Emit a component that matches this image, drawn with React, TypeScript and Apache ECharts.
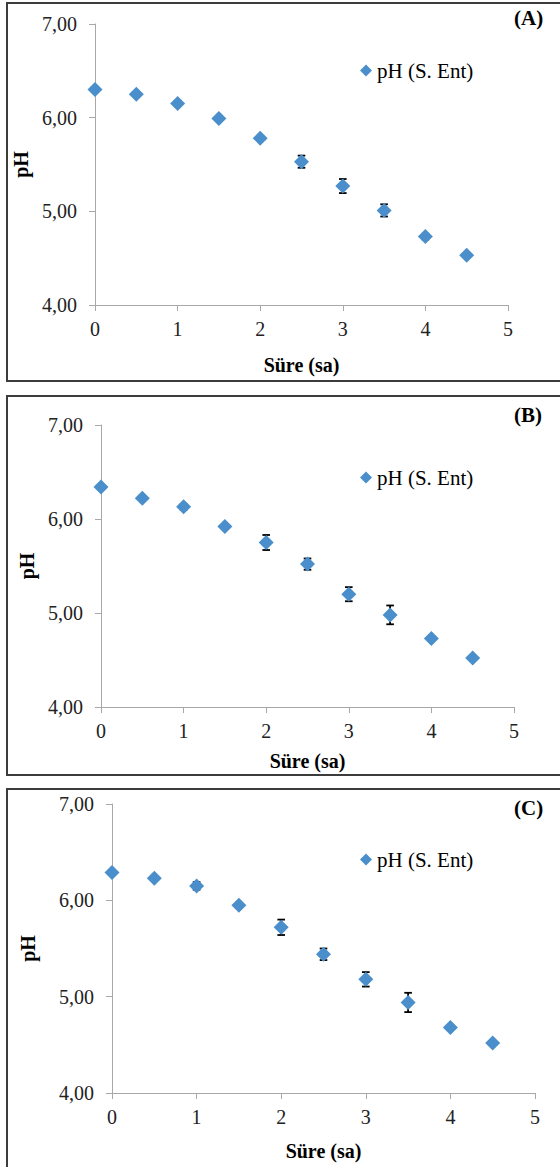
import React, { useEffect, useRef } from "react";
import * as echarts from "echarts";

const timeHours = [0, 0.5, 1, 1.5, 2, 2.5, 3, 3.5, 4, 4.5];
const phA = [6.3, 6.25, 6.15, 5.99, 5.78, 5.53, 5.27, 5.01, 4.73, 4.53];
const errA = [0.02, 0.01, 0.01, 0.01, 0.01, 0.065, 0.075, 0.065, 0.03, 0.01];
const phB = [6.34, 6.22, 6.13, 5.92, 5.75, 5.52, 5.2, 4.98, 4.73, 4.52];
const errB = [0.01, 0.01, 0.03, 0.01, 0.08, 0.06, 0.075, 0.1, 0.01, 0.01];
const phC = [6.29, 6.23, 6.15, 5.95, 5.72, 5.44, 5.18, 4.94, 4.68, 4.52];
const errC = [0.01, 0.01, 0.04, 0.01, 0.08, 0.06, 0.075, 0.1, 0.01, 0.01];
const panelLabels = ["(A)", "(B)", "(C)"];
const seriesName = "pH (S. Ent)";
const xAxisTitle = "Süre (sa)";
const yAxisTitle = "pH";

const FONT = "Liberation Serif";
const MARKER = "#4a8fcb";
const AXIS = "#a8a8a8";

type Panel = {
  values: number[];
  errors: number[];
  grid: { left: number; top: number; width: number; height: number };
  yNameGap: number;
  xNameGap: number;
  legendTop: number;
  labelY: number;
  box: { y: number; h: number };
};

const panels: Panel[] = [
  {
    values: phA,
    errors: errA,
    grid: { left: 95, top: 24, width: 413, height: 281 },
    yNameGap: 58,
    xNameGap: 50,
    legendTop: 60,
    labelY: 18,
    box: { y: 3, h: 378 },
  },
  {
    values: phB,
    errors: errB,
    grid: { left: 101, top: 425, width: 413, height: 282 },
    yNameGap: 59,
    xNameGap: 44,
    legendTop: 467,
    labelY: 415,
    box: { y: 396, h: 379 },
  },
  {
    values: phC,
    errors: errC,
    grid: { left: 112, top: 804, width: 423, height: 289 },
    yNameGap: 74,
    xNameGap: 48,
    legendTop: 849,
    labelY: 808,
    box: { y: 789, h: 420 },
  },
];

export default function App() {
  const ref = useRef<HTMLDivElement>(null);

  useEffect(() => {
    if (!ref.current) return;
    const chart = echarts.init(ref.current, null, { renderer: "svg" });

    const grids: any[] = [];
    const xAxes: any[] = [];
    const yAxes: any[] = [];
    const series: any[] = [];
    const legends: any[] = [];
    const graphics: any[] = [];

    panels.forEach((p, i) => {
      grids.push({ ...p.grid, containLabel: false });
      xAxes.push({
        type: "value",
        gridIndex: i,
        min: 0,
        max: 5,
        interval: 1,
        name: xAxisTitle,
        nameLocation: "middle",
        nameGap: p.xNameGap,
        nameTextStyle: { fontFamily: FONT, fontSize: 20, fontWeight: "bold", color: "#000" },
        axisLine: { show: true, lineStyle: { color: AXIS, width: 1 } },
        axisTick: { show: true, length: 6, lineStyle: { color: AXIS } },
        axisLabel: { fontFamily: FONT, fontSize: 20, color: "#222", margin: 14 },
        splitLine: { show: false },
      });
      yAxes.push({
        type: "value",
        gridIndex: i,
        min: 4,
        max: 7,
        interval: 1,
        name: yAxisTitle,
        nameLocation: "middle",
        nameGap: p.yNameGap,
        nameRotate: 90,
        nameTextStyle: { fontFamily: FONT, fontSize: 20, fontWeight: "bold", color: "#000" },
        axisLine: { show: true, lineStyle: { color: AXIS, width: 1 } },
        axisTick: { show: true, length: 6, lineStyle: { color: AXIS } },
        axisLabel: {
          fontFamily: FONT,
          fontSize: 20,
          color: "#222",
          margin: 18,
          formatter: (v: number) => v.toFixed(2).replace(".", ","),
        },
        splitLine: { show: false },
      });
      const errData = timeHours.map((t, k) => [t, p.values[k], p.errors[k]]);
      series.push({
        type: "custom",
        name: "err" + i,
        xAxisIndex: i,
        yAxisIndex: i,
        z: 1,
        data: errData,
        encode: { x: 0, y: 1 },
        renderItem: (params: any, api: any) => {
          const x = api.value(0);
          const y = api.value(1);
          const e = api.value(2);
          const top = api.coord([x, y + e]);
          const bot = api.coord([x, y - e]);
          const hw = 3.8;
          const style = { stroke: "#000", lineWidth: 1.8 };
          return {
            type: "group",
            children: [
              { type: "line", shape: { x1: top[0], y1: top[1], x2: bot[0], y2: bot[1] }, style },
              { type: "line", shape: { x1: top[0] - hw, y1: top[1], x2: top[0] + hw, y2: top[1] }, style },
              { type: "line", shape: { x1: bot[0] - hw, y1: bot[1], x2: bot[0] + hw, y2: bot[1] }, style },
            ],
          };
        },
      });
      series.push({
        type: "scatter",
        name: seriesName,
        xAxisIndex: i,
        yAxisIndex: i,
        z: 3,
        symbol: "diamond",
        symbolSize: [15, 15],
        itemStyle: { color: MARKER, opacity: 1 },
        data: timeHours.map((t, k) => [t, p.values[k]]),
      });
      legends.push({
        data: [{ name: seriesName, icon: "diamond" }],
        left: 360,
        top: p.legendTop,
        padding: 0,
        itemWidth: 12,
        itemHeight: 12,
        selectedMode: false,
        textStyle: { fontFamily: FONT, fontSize: 21, color: "#000" },
      });
      graphics.push({
        type: "rect",
        shape: { x: 7, y: p.box.y, width: 620, height: p.box.h },
        style: { fill: "none", stroke: "#3c3c3c", lineWidth: 2 },
        z: 0,
      });
      graphics.push({
        type: "text",
        x: 514,
        y: p.labelY,
        style: {
          text: panelLabels[i],
          fontFamily: FONT,
          fontSize: 21,
          fontWeight: "bold",
          fill: "#000",
          verticalAlign: "middle",
        },
      });
    });

    chart.setOption({
      animation: false,
      backgroundColor: "#fff",
      textStyle: { fontFamily: FONT },
      grid: grids,
      xAxis: xAxes,
      yAxis: yAxes,
      legend: legends,
      series,
      graphic: graphics,
    });

    return () => chart.dispose();
  }, []);

  return (
    <div
      ref={ref}
      style={{ position: "absolute", left: 0, top: 0, width: 560, height: 1167 }}
    />
  );
}
